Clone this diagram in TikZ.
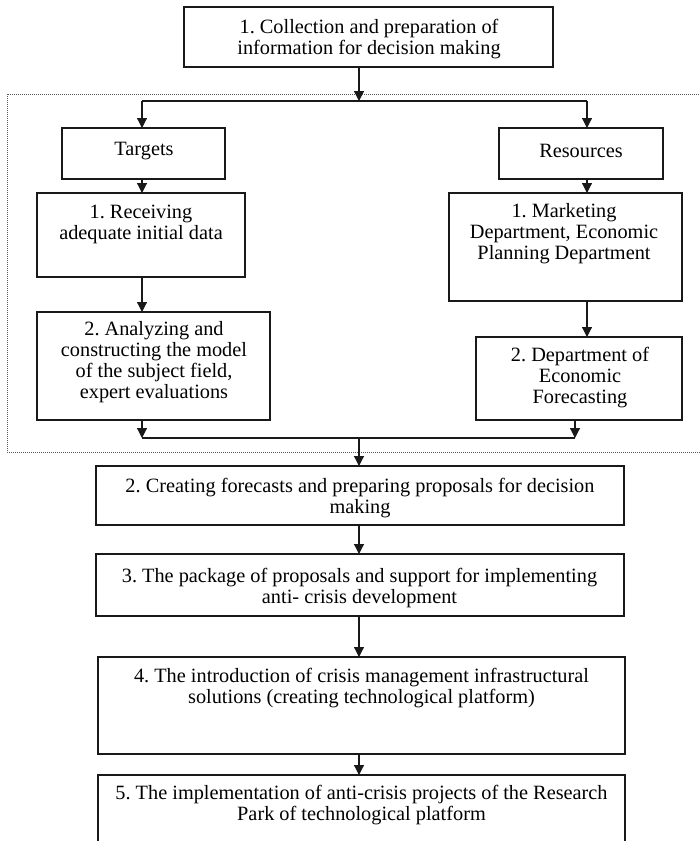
\documentclass[tikz,border=0pt]{standalone}
\usepackage{fontspec}
\setmainfont{Liberation Serif}
\usetikzlibrary{arrows.meta}
\frenchspacing

% rectangle node from its top-left and bottom-right corners
\newcommand\mkbox[6][box]{%
  \node[#1, anchor=north west,
        minimum width={(#5-#3)*1pt}, minimum height={(#6-#4)*1pt}]
        (#2) at (#3,#4) {};}

\begin{document}
\begin{tikzpicture}[x=1pt,y=-1pt,
  box/.style={draw=black!90, line width=1.2pt, inner sep=0pt, outer sep=0pt},
  group/.style={draw=black!65, line width=0.9pt, dash pattern=on 1pt off 1pt,
                inner sep=0pt, outer sep=0pt},
  lbl/.style={align=center, inner sep=0pt, font=\fontsize{20.3}{21}\selectfont},
  link/.style={draw=black!90, line width=1.2pt},
  flow/.style={link, -{Triangle[width=10pt,length=10pt]}}]

\useasboundingbox (0,0) rectangle (700,841);
\clip (0,0) rectangle (700,841);
\fill[white] (0,0) rectangle (700,841);

% dotted frame around the targets / resources block
\mkbox[group]{grp}{7}{94}{712}{452}

% boxes
\mkbox{b1}{184}{7}{553}{67}
\mkbox{tgt}{62}{128}{225}{179}
\mkbox{res}{499}{128}{663}{179}
\mkbox{rcv}{37}{193}{245}{277}
\mkbox{mkt}{449}{193}{682}{301}
\mkbox{ana}{37}{312}{270}{420}
\mkbox{fc}{476}{337}{682}{420}
\mkbox{cr}{96}{466}{624}{525}
\mkbox{pk}{96}{554}{624}{616}
\mkbox{intro}{98}{657}{625}{754}
\mkbox{impl}{98}{775}{625}{870}

% texts
\node[lbl] (t-b1) at (369,39) {1. Collection and preparation of\\information for decision making};
\node[lbl] (t-tgt) at (144,151) {Targets};
\node[lbl] (t-res) at (581,151) {Resources};
\node[lbl] (t-rcv) at (141,224) {1. Receiving\\adequate initial data};
\node[lbl] (t-mkt) at (564,234) {1. Marketing\\Department, Economic\\Planning Department};
\node[lbl] (t-ana) at (154,362) {2. Analyzing and\\constructing the model\\of the subject field,\\expert evaluations};
\node[lbl] (t-fc) at (580,378) {2. Department of\\Economic\\Forecasting};
\node[lbl] (t-cr) at (360,498) {2. Creating forecasts and preparing proposals for decision\\making};
\node[lbl] (t-pk) at (359.5,588) {3. The package of proposals and support for implementing\\anti- crisis development};
\node[lbl] (t-intro) at (361.5,688) {4. The introduction of crisis management infrastructural\\solutions (creating technological platform)};
\node[lbl] (t-impl) at (361.5,805) {5. The implementation of anti-crisis projects of the Research\\Park of technological platform};

% connector columns
\coordinate (cl) at (142,0);
\coordinate (crt) at (587,0);
\coordinate (crb) at (575,0);
\coordinate (j1) at (359,101);
\coordinate (j2) at (359,438);

% fork from the first step
\draw[flow] (j1 |- b1.south) -- (j1);
\draw[link] (j1 -| cl) -- (j1 -| crt);
\draw[flow] (j1 -| cl) -- (tgt.north -| cl);
\draw[flow] (j1 -| crt) -- (res.north -| crt);

% left column
\draw[flow] (tgt.south -| cl) -- (rcv.north -| cl);
\draw[flow] (rcv.south -| cl) -- (ana.north -| cl);
\draw[flow] (ana.south -| cl) -- (j2 -| cl);

% right column
\draw[flow] (res.south -| crt) -- (mkt.north -| crt);
\draw[flow] (mkt.south -| crt) -- (fc.north -| crt);
\draw[flow] (fc.south -| crb) -- (j2 -| crb);

% join and main sequence
\draw[link] (j2 -| cl) -- (j2 -| crb);
\draw[flow] (j2) -- (cr.north -| j2);
\draw[flow] (cr.south -| j2) -- (pk.north -| j2);
\draw[flow] (pk.south -| j2) -- (intro.north -| j2);
\draw[flow] (intro.south -| j2) -- (impl.north -| j2);
\end{tikzpicture}
\end{document}
